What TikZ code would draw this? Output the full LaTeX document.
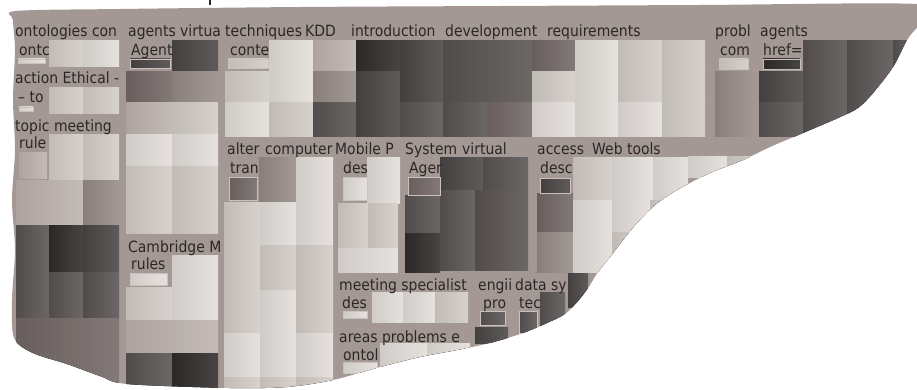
\documentclass[tikz,border=0pt]{standalone}
\usepackage{fontspec}
\setmainfont{DejaVu Sans}[FakeStretch=0.9]

\definecolor{paper}{HTML}{A39893}
\definecolor{ink}{HTML}{2B2727}
\definecolor{lta}{HTML}{E2DDD9}
\definecolor{ltb}{HTML}{D2CBC6}
\definecolor{ltc}{HTML}{BCB2AD}
\definecolor{mda}{HTML}{958A85}
\definecolor{mdb}{HTML}{716765}
\definecolor{dka}{HTML}{585252}
\definecolor{dkb}{HTML}{4A4545}
\definecolor{dkc}{HTML}{2F2B2B}

\begin{document}
\begin{tikzpicture}
[x=1pt,y=-1pt
,cell/.style={left color=#1!92!black,right color=#1!88!white}
,bar/.style={cell=#1,draw=lta!60!paper,line width=0.8pt}
,lab/.style={anchor=base west,inner sep=0pt,text=ink,font=\fontsize{15.5}{15.5}\selectfont}]
\useasboundingbox (0,0) rectangle (917,390);
% fragment of a glyph above the sheet
\draw[ink,line width=1.2pt] (210,0) -- (210,5);
\begin{scope}
% torn sheet
\clip plot[smooth cycle] coordinates {(16,11) (120,9) (300,7) (500,6) (700,5) (917,4) (930,18)
 (917,28) (907,40) (893,67) (873,93) (858,108) (838,118) (803,133) (770,147) (743,160)
 (710,173) (677,190) (655,205) (637,223) (623,240) (610,257) (598,272) (588,288) (578,301)
 (565,314) (547,323) (523,333) (490,343) (457,350) (420,357) (380,367) (333,380) (287,387)
 (230,388) (127,384) (100,376) (67,364) (33,353) (14,338) (12,300) (15,250) (12,200)
 (15,150) (13,100) (15,50) (13,20)};
\fill[paper] (0,0) rectangle (917,390);
% ontologies / action / topic
\foreach \xa/\ya/\xb/\yb/\c in {49/41/83/67/ltb,83/41/119/67/lta,49/88/83/114/ltb,83/88/119/114/ltb,
 49/135/83/180/ltb,83/135/119/180/ltb,19/153/47/178/ltc,16/180/83/225/ltc,83/180/119/225/mda,
 16/225/49/272/dka,49/225/83/272/dkc,83/225/119/272/dkb,16/272/49/318/dka,49/272/83/318/dka,
 83/272/119/318/dka,16/318/119/390/mdb}
 \fill[cell=\c] (\xa,\ya) rectangle (\xb,\yb);
% agents virtual / Cambridge
\foreach \xa/\ya/\xb/\yb/\c in {172/41/218/72/dkb,126/72/172/103/mdb,172/72/218/103/mda,
 126/103/172/135/ltc,172/103/218/135/ltb,126/135/172/167/lta,172/135/218/167/lta,
 126/167/172/200/ltb,172/167/218/200/ltb,126/200/172/233/ltb,172/200/218/233/ltb,
 172/255/218/287/lta,126/287/172/320/ltb,172/287/218/320/lta,126/320/218/353/ltc,
 126/353/172/390/dka,172/353/218/390/dkc}
 \fill[cell=\c] (\xa,\ya) rectangle (\xb,\yb);
% techniques ... requirements
\foreach \xa/\ya/\xb/\yb/\c in {269/41/313/72/lta,313/41/356/72/ltc,356/41/400/72/dkc,
 400/41/443/72/dkb,443/41/532/72/dka,532/41/575/72/mdb,575/41/618/72/lta,618/41/662/72/ltb,
 662/41/705/72/ltb,225/72/269/103/ltb,269/72/313/103/lta,313/72/356/103/mda,356/72/400/103/dkb,
 400/72/443/103/dkb,443/72/532/103/dka,532/72/575/103/ltb,575/72/618/103/lta,618/72/662/103/ltb,
 662/72/705/103/ltb,225/103/269/137/lta,269/103/313/137/ltb,313/103/356/137/dka,
 356/103/400/137/dkb,400/103/443/137/dka,443/103/487/137/dka,487/103/532/137/mdb,
 532/103/575/137/lta,575/103/618/137/lta,618/103/662/137/lta,662/103/705/137/ltb}
 \fill[cell=\c] (\xa,\ya) rectangle (\xb,\yb);
% probl / agents href
\foreach \xa/\ya/\xb/\yb/\c in {715/72/753/137/mda,759/72/803/103/dkb,759/103/803/137/dka,
 803/41/847/72/dka,847/41/893/72/dka,893/41/917/72/dka,803/72/847/103/dka,847/72/893/103/dka,
 803/103/847/137/dka,847/103/893/137/dka}
 \fill[cell=\c] (\xa,\ya) rectangle (\xb,\yb);
% alter computer
\foreach \xa/\ya/\xb/\yb/\c in {259/158/296/202/mda,296/158/333/202/lta,
 224/202/260/245/ltb,260/202/296/245/lta,296/202/333/245/lta,
 224/245/260/290/ltb,260/245/296/290/ltb,296/245/333/290/ltb,
 224/290/260/333/ltb,260/290/296/333/lta,296/290/333/333/ltb,
 224/333/260/377/lta,260/333/296/377/lta,296/333/333/377/lta,
 224/377/260/390/ltb,260/377/296/390/ltb,296/377/333/390/ltb}
 \fill[cell=\c] (\xa,\ya) rectangle (\xb,\yb);
% Mobile / System / access
\foreach \xa/\ya/\xb/\yb/\c in {367/158/400/203/lta,338/203/368/248/ltb,368/203/398/248/ltb,
 338/248/398/272/lta,440/158/483/190/dkb,483/158/528/190/dka,405/195/440/233/dka,
 405/233/440/272/dkc,440/190/475/230/dka,440/230/475/270/dka,475/190/528/270/dka,
 573/158/612/200/ltb,612/158/653/200/lta,653/158/688/200/lta,688/157/727/177/lta,
 727/157/760/177/ltb,537/193/573/232/mdb,537/232/573/272/mda,573/200/612/232/lta,
 612/200/650/232/lta,650/200/690/232/ltb,573/232/612/272/lta,612/232/650/272/ltb}
 \fill[cell=\c] (\xa,\ya) rectangle (\xb,\yb);
% meeting / areas / engi / data
\foreach \xa/\ya/\xb/\yb/\c in {372/292/403/322/lta,403/292/435/322/lta,435/292/468/322/ltb,
 540/292/565/327/dka,568/273/588/307/dkb,380/343/427/370/lta,427/343/470/370/lta,
 475/327/508/343/dkb}
 \fill[cell=\c] (\xa,\ya) rectangle (\xb,\yb);
% small bars under the labels
\foreach \xa/\ya/\xb/\yb/\c in {18/59/45/63/lta,19/107/33/111/lta,130/59/170/68/dkb,
 228/59/268/68/ltb,719/59/748/69/ltb,763/59/800/69/dkc,130/273/167/285/lta,
 229/177/257/200/mdb,343/177/367/200/lta,408/177/440/195/mdb,540/178/570/193/dkb,
 343/311/367/318/lta,480/311/505/325/dka,519/311/537/333/dka,343/362/377/373/lta}
 \filldraw[bar=\c] (\xa,\ya) rectangle (\xb,\yb);
% labels
\node[lab] (ontologies) at (15,37) {ontologies con};
\node[lab] (agentsv) at (128,37) {agents virtua};
\node[lab] (techniques) at (225,37) {techniques};
\node[lab] (kdd) at (305,37) {KDD};
\node[lab] (introduction) at (351,37) {introduction};
\node[lab] (development) at (445,37) {development};
\node[lab] (requirements) at (547,37) {requirements};
\node[lab] (probl) at (715,37) {probl};
\node[lab] (agentsh) at (760,37) {agents};
\node[lab] (ontc) at (19,56) {ontc};
\node[lab] (agent) at (131,56) {Agent};
\node[lab] (conte) at (230,56) {conte};
\node[lab] (comp) at (720,56) {com};
\node[lab] (href) at (763,56) {href=};
\node[lab] (action) at (15,84) {action Ethical -};
\node[lab] (to) at (18,103) {– to};
\node[lab] (topic) at (15,132) {topic meeting};
\node[lab] (rule) at (19,149) {rule};
\node[lab] (alter) at (227,155) {alter};
\node[lab] (computer) at (265,155) {computer};
\node[lab] (mobile) at (335,155) {Mobile P};
\node[lab] (system) at (405,155) {System};
\node[lab] (virtual) at (462,155) {virtual};
\node[lab] (access) at (537,155) {access};
\node[lab] (webtools) at (592,155) {Web tools};
\node[lab] (tran) at (230,173) {tran};
\node[lab] (desm) at (343,173) {des};
\node[lab] (ager) at (409,173) {Ager};
\node[lab] (desc) at (540,173) {desc};
\node[lab] (cambridge) at (128,252) {Cambridge M};
\node[lab] (rules) at (131,269) {rules};
\node[lab] (meeting) at (339,290) {meeting specialist};
\node[lab] (engi) at (478,290) {engii};
\node[lab] (data) at (515,290) {data sy};
\node[lab] (desp) at (342,308) {des};
\node[lab] (pro) at (483,308) {pro};
\node[lab] (tec) at (519,308) {tec};
\node[lab] (areas) at (339,342) {areas problems e};
\node[lab] (ontol) at (343,360) {ontol};
\end{scope}
\end{tikzpicture}
\end{document}
